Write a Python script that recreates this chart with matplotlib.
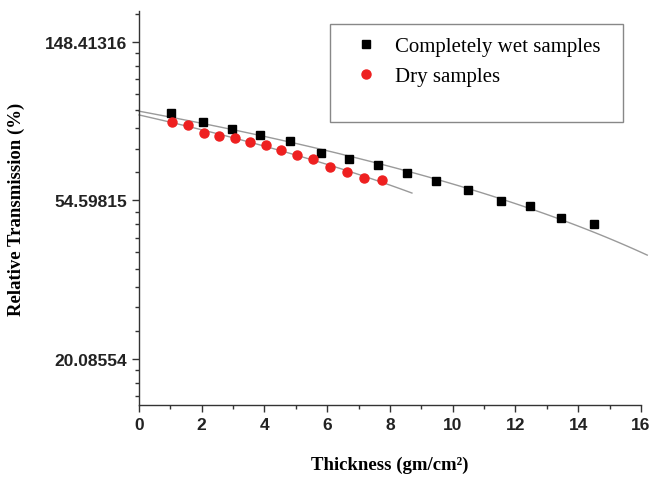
import numpy as np
import matplotlib
matplotlib.use('Agg')
import matplotlib.pyplot as plt
from matplotlib.patches import Rectangle
from matplotlib.ticker import FixedLocator, NullFormatter

wet_x = [1.01, 2.03, 2.95, 3.87, 4.81, 5.80, 6.70, 7.61, 8.53, 9.47,
         10.48, 11.53, 12.45, 13.46, 14.51]
wet_y = [94.4, 89.2, 85.3, 82.3, 79.2, 73.3, 70.7, 68.0, 64.8, 61.8,
         58.1, 54.4, 52.5, 48.7, 46.9]
dry_x = [1.04, 1.57, 2.07, 2.55, 3.07, 3.54, 4.04, 4.54, 5.03, 5.56,
         6.09, 6.62, 7.18, 7.74]
dry_y = [89.6, 87.6, 83.5, 81.9, 80.6, 78.9, 77.5, 74.8, 72.5, 71.0,
         67.1, 65.3, 62.9, 61.9]
wet_fit_range = (0, 16.2)
dry_fit_range = (0, 8.7)
y_major = [np.e ** 3, np.e ** 4, np.e ** 5]
y_labels = ['20.08554', '54.59815', '148.41316']
x_ticks = list(range(0, 17, 2))

GRAY = '#9a9a9a'
RED = '#ee2020'

fig = plt.figure(figsize=(6.58, 4.81), dpi=100)
ax = fig.add_axes([0.2112, 0.1559, 0.7629, 0.8191])

# linear fits drawn over the log axis (they bend)
for xs, ys, (a, b) in [(wet_x, wet_y, wet_fit_range), (dry_x, dry_y, dry_fit_range)]:
    k = np.polyfit(xs, ys, 1)
    fx = np.linspace(a, b, 100)
    ax.plot(fx, np.polyval(k, fx), color=GRAY, lw=1.0, clip_on=False, zorder=1)

ax.plot(wet_x, wet_y, 's', color='black', ms=5.8, ls='none', zorder=3,
        label='Completely wet samples')
ax.plot(dry_x, dry_y, 'o', color=RED, ms=6.5, ls='none', zorder=3,
        label='Dry samples')

ax.set_yscale('log', base=np.e)
ax.set_ylim(15, 180)
ax.set_xlim(0, 16)

ax.set_yticks(y_major)
ax.set_yticklabels(y_labels)
minor = []
edges = [np.e ** 2] + y_major + [np.e ** 6]
for lo, hi in zip(edges[:-1], edges[1:]):
    step = (hi - lo) / 9
    minor += [lo + i * step for i in range(1, 9)]
ax.yaxis.set_minor_locator(FixedLocator(minor))
ax.yaxis.set_minor_formatter(NullFormatter())

ax.set_xticks(x_ticks)
ax.set_xticks(range(1, 16, 2), minor=True)

for s in ['top', 'right']:
    ax.spines[s].set_visible(False)
for s in ['left', 'bottom']:
    ax.spines[s].set_color('#333333')
    ax.spines[s].set_linewidth(1.0)

ax.tick_params(which='major', direction='out', length=5, width=1, color='#333333')
ax.tick_params(which='minor', direction='out', length=3, width=1, color='#333333')
for lab in ax.get_xticklabels() + ax.get_yticklabels():
    lab.set_fontfamily('Liberation Sans')
    lab.set_fontweight('bold')
    lab.set_fontsize(12.5)
    lab.set_color('#222222')

ax.set_xlabel('Thickness (gm/cm\u00b2)', family='Liberation Serif',
              fontweight='bold', fontsize=13.5, labelpad=17)
ax.set_ylabel('Relative Transmission (%)', family='Liberation Serif',
              fontweight='bold', fontsize=13.5, labelpad=14)

ax.add_patch(Rectangle((0.380, 0.718), 0.584, 0.249, transform=ax.transAxes,
                       fill=False, edgecolor='#888888', lw=1.0, clip_on=False))
ax.legend(loc='upper left', bbox_to_anchor=(0.41, 0.962), frameon=False,
          prop={'family': 'Liberation Serif', 'size': 15},
          handletextpad=0.9, labelspacing=0.5, borderpad=0, handlelength=1.0)

fig.savefig('out.png', dpi=100)
